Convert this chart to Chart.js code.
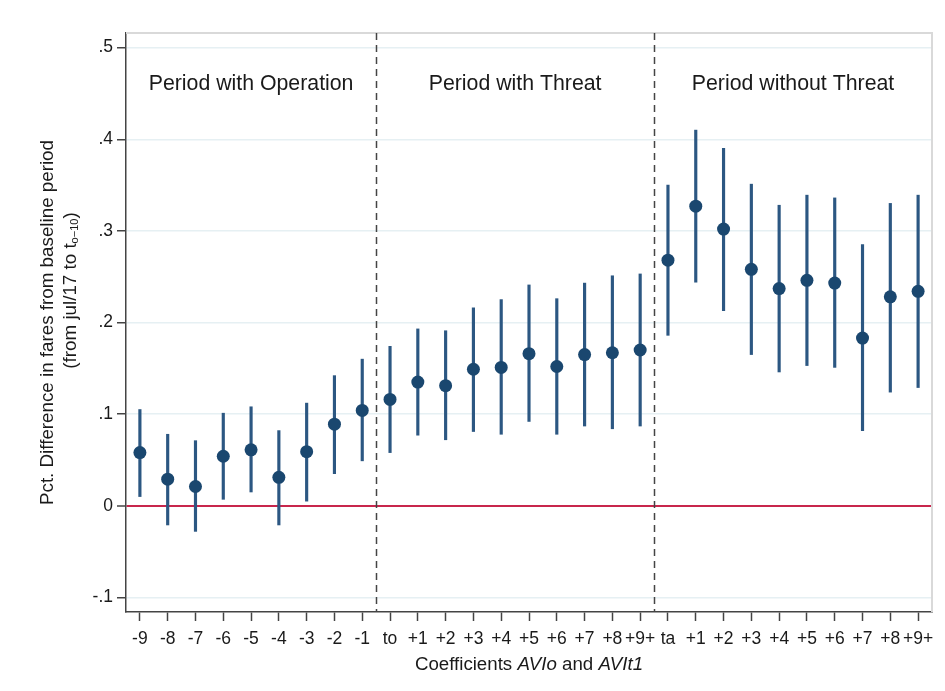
<!DOCTYPE html>
<html>
<head>
<meta charset="utf-8">
<title>Event study coefficients</title>
<script src="https://cdn.jsdelivr.net/npm/chart.js@4.4.1/dist/chart.umd.min.js"></script>
<style>
    html, body { margin: 0; padding: 0; background: #ffffff; }
    #wrap { width: 945px; height: 691px; position: relative; }
</style>
</head>
<body>
<div id="wrap"><canvas id="event-chart"></canvas></div>
<script>
// Tick labels along the x axis (one per coefficient)
const categories = [
    '-9', '-8', '-7', '-6', '-5', '-4', '-3', '-2', '-1',
    'to', '+1', '+2', '+3', '+4', '+5', '+6', '+7', '+8', '+9+',
    'ta', '+1', '+2', '+3', '+4', '+5', '+6', '+7', '+8', '+9+'
];

// Point estimates
const estimates = [
    0.058, 0.029, 0.021, 0.054, 0.061, 0.031, 0.059, 0.089, 0.104,
    0.116, 0.135, 0.131, 0.149, 0.151, 0.166, 0.152, 0.165, 0.167, 0.170,
    0.268, 0.327, 0.302, 0.258, 0.237, 0.246, 0.243, 0.183, 0.228, 0.234
];

// Confidence interval bounds
const ciLower = [
    0.010, -0.021, -0.028, 0.007, 0.015, -0.021, 0.005, 0.035, 0.049,
    0.058, 0.077, 0.072, 0.081, 0.078, 0.092, 0.078, 0.087, 0.084, 0.087,
    0.186, 0.244, 0.213, 0.165, 0.146, 0.153, 0.151, 0.082, 0.124, 0.129
];
const ciUpper = [
    0.105, 0.078, 0.071, 0.101, 0.108, 0.082, 0.112, 0.142, 0.160,
    0.174, 0.193, 0.191, 0.216, 0.225, 0.241, 0.226, 0.243, 0.251, 0.253,
    0.350, 0.410, 0.390, 0.351, 0.328, 0.339, 0.336, 0.285, 0.330, 0.339
];

// Y axis ticks
const yTicks = [-0.1, 0, 0.1, 0.2, 0.3, 0.4, 0.5];

// Period separators (between coefficient indices) and their headings
const periodBreaks = [8.5, 18.5];
const periodLabels = ['Period with Operation', 'Period with Threat', 'Period without Threat'];

const FONT = '"Liberation Sans", Arial, Helvetica, sans-serif';
const NAVY = '#1a476f';
const TEXT = '#1a1a1a';

// Format .5 / 0 / -.1 like Stata
function formatTick(value) {
    const v = Math.round(value * 10) / 10;
    if (v === 0) return '0';
    return (v < 0 ? '-' : '') + String(Math.abs(v)).replace(/^0/, '');
}

// Plugin drawing the dashed separators, frame, headings and axis titles
const decorations = {
    id: 'decorations',
    beforeDraw(chart) {
        const ctx = chart.ctx;
        ctx.save();
        ctx.fillStyle = '#ffffff';
        ctx.fillRect(0, 0, chart.width, chart.height);
        ctx.restore();
    },
    beforeDatasetsDraw(chart) {
        const ctx = chart.ctx;
        const area = chart.chartArea;
        const x = chart.scales.x;
        const y = chart.scales.y;

        ctx.save();
        // Light frame on top and right
        ctx.strokeStyle = '#d9d9d9';
        ctx.lineWidth = 2;
        ctx.beginPath();
        ctx.moveTo(area.left, area.top);
        ctx.lineTo(area.right, area.top);
        ctx.lineTo(area.right, area.bottom);
        ctx.stroke();

        // Dashed period separators
        ctx.strokeStyle = '#444444';
        ctx.lineWidth = 1.5;
        ctx.setLineDash([7, 5]);
        periodBreaks.forEach(function(b) {
            const px = Math.round(x.getPixelForValue(b)) + 0.5;
            ctx.beginPath();
            ctx.moveTo(px, area.top);
            ctx.lineTo(px, area.bottom);
            ctx.stroke();
        });
        ctx.setLineDash([]);

        // Period headings centred on each group
        const edges = [0].concat(periodBreaks.map(b => b + 0.5), [categories.length]);
        ctx.fillStyle = TEXT;
        ctx.font = '21.3px ' + FONT;
        ctx.textAlign = 'center';
        ctx.textBaseline = 'middle';
        periodLabels.forEach(function(label, i) {
            const mid = (edges[i] + edges[i + 1] - 1) / 2;
            ctx.fillText(label, x.getPixelForValue(mid), y.getPixelForValue(0.46));
        });
        ctx.restore();
    },
    afterDraw(chart) {
        const ctx = chart.ctx;
        const area = chart.chartArea;
        ctx.save();
        ctx.fillStyle = TEXT;
        ctx.textBaseline = 'middle';

        // X title with italic parts
        const parts = [
            { text: 'Coefficients ', italic: false },
            { text: 'AVIo', italic: true },
            { text: ' and ', italic: false },
            { text: 'AVIt1', italic: true }
        ];
        let total = 0;
        parts.forEach(function(p) {
            ctx.font = (p.italic ? 'italic ' : '') + '18.7px ' + FONT;
            p.w = ctx.measureText(p.text).width;
            total += p.w;
        });
        let cx = (area.left + area.right) / 2 - total / 2;
        ctx.textAlign = 'left';
        parts.forEach(function(p) {
            ctx.font = (p.italic ? 'italic ' : '') + '18.7px ' + FONT;
            ctx.fillText(p.text, cx, area.bottom + 53);
            cx += p.w;
        });

        // Y title, two rotated lines
        const midY = (area.top + area.bottom) / 2;
        ctx.save();
        ctx.translate(area.left - 78, midY);
        ctx.rotate(-Math.PI / 2);
        ctx.textAlign = 'center';
        ctx.font = '18.8px ' + FONT;
        ctx.fillText('Pct. Difference in fares from baseline period', 0, 0);
        ctx.restore();

        ctx.save();
        ctx.translate(area.left - 55, midY - 32);
        ctx.rotate(-Math.PI / 2);
        ctx.textAlign = 'left';
        const main1 = '(from jul/17 to t';
        const sub = 'o\u221210';
        const main2 = ')';
        ctx.font = '18.8px ' + FONT;
        const w1 = ctx.measureText(main1).width;
        const w3 = ctx.measureText(main2).width;
        ctx.font = '11px ' + FONT;
        const w2 = ctx.measureText(sub).width;
        let sx = -(w1 + w2 + w3) / 2;
        ctx.font = '18.8px ' + FONT;
        ctx.fillText(main1, sx, 0);
        sx += w1;
        ctx.font = '11px ' + FONT;
        ctx.fillText(sub, sx, 4);
        sx += w2;
        ctx.font = '18.8px ' + FONT;
        ctx.fillText(main2, sx, 0);
        ctx.restore();

        ctx.restore();
    }
};

// Build datasets from the arrays
const intervalData = categories.map((_, i) => ({ x: i, y: [ciLower[i], ciUpper[i]] }));
const pointData = categories.map((_, i) => ({ x: i, y: estimates[i] }));

const chart = new Chart(document.getElementById('event-chart').getContext('2d'), {
    type: 'bar',
    data: {
        datasets: [
            {
                type: 'line',
                label: 'Estimate',
                data: pointData,
                showLine: false,
                pointRadius: 6.5,
                pointHoverRadius: 6.5,
                pointBackgroundColor: NAVY,
                pointBorderColor: NAVY,
                pointBorderWidth: 0,
                order: 0
            },
            {
                type: 'bar',
                label: 'CI',
                data: intervalData,
                backgroundColor: '#2c5782',
                borderWidth: 0,
                barThickness: 2.5,
                grouped: false,
                order: 1
            }
        ]
    },
    options: {
        responsive: true,
        maintainAspectRatio: false,
        animation: false,
        layout: { padding: { left: 0, top: 33, right: 13, bottom: 0 } },
        plugins: {
            legend: { display: false },
            tooltip: { enabled: false }
        },
        scales: {
            x: {
                type: 'linear',
                offset: false,
                min: -0.5,
                max: categories.length - 0.5,
                afterBuildTicks: function(scale) {
                    scale.ticks = categories.map((_, i) => ({ value: i }));
                },
                afterFit: function(scale) { scale.height = 79; },
                ticks: {
                    autoSkip: false,
                    maxRotation: 0,
                    padding: 8,
                    color: TEXT,
                    font: { family: FONT, size: 17.5 },
                    callback: function(value) { return categories[value]; }
                },
                grid: {
                    offset: false,
                    drawOnChartArea: false,
                    drawTicks: true,
                    tickLength: 9,
                    tickColor: '#444444',
                    tickWidth: 1.5
                },
                border: { display: true, color: '#444444', width: 1.5 }
            },
            y: {
                type: 'linear',
                min: -0.116,
                max: 0.516,
                afterBuildTicks: function(scale) {
                    scale.ticks = yTicks.map(v => ({ value: v }));
                },
                afterFit: function(scale) { scale.width = 126; },
                ticks: {
                    padding: 4,
                    color: TEXT,
                    font: { family: FONT, size: 17.5 },
                    callback: function(value) { return formatTick(value); }
                },
                grid: {
                    color: function(c) { return c.tick && c.tick.value === 0 ? '#c8264c' : '#e6f0f3'; },
                    lineWidth: function(c) { return c.tick && c.tick.value === 0 ? 2 : 1.5; },
                    tickColor: '#444444',
                    tickLength: 9,
                    tickWidth: 1.5
                },
                border: { display: true, color: '#444444', width: 1.5 }
            }
        }
    },
    plugins: [decorations]
});
</script>
</body>
</html>
